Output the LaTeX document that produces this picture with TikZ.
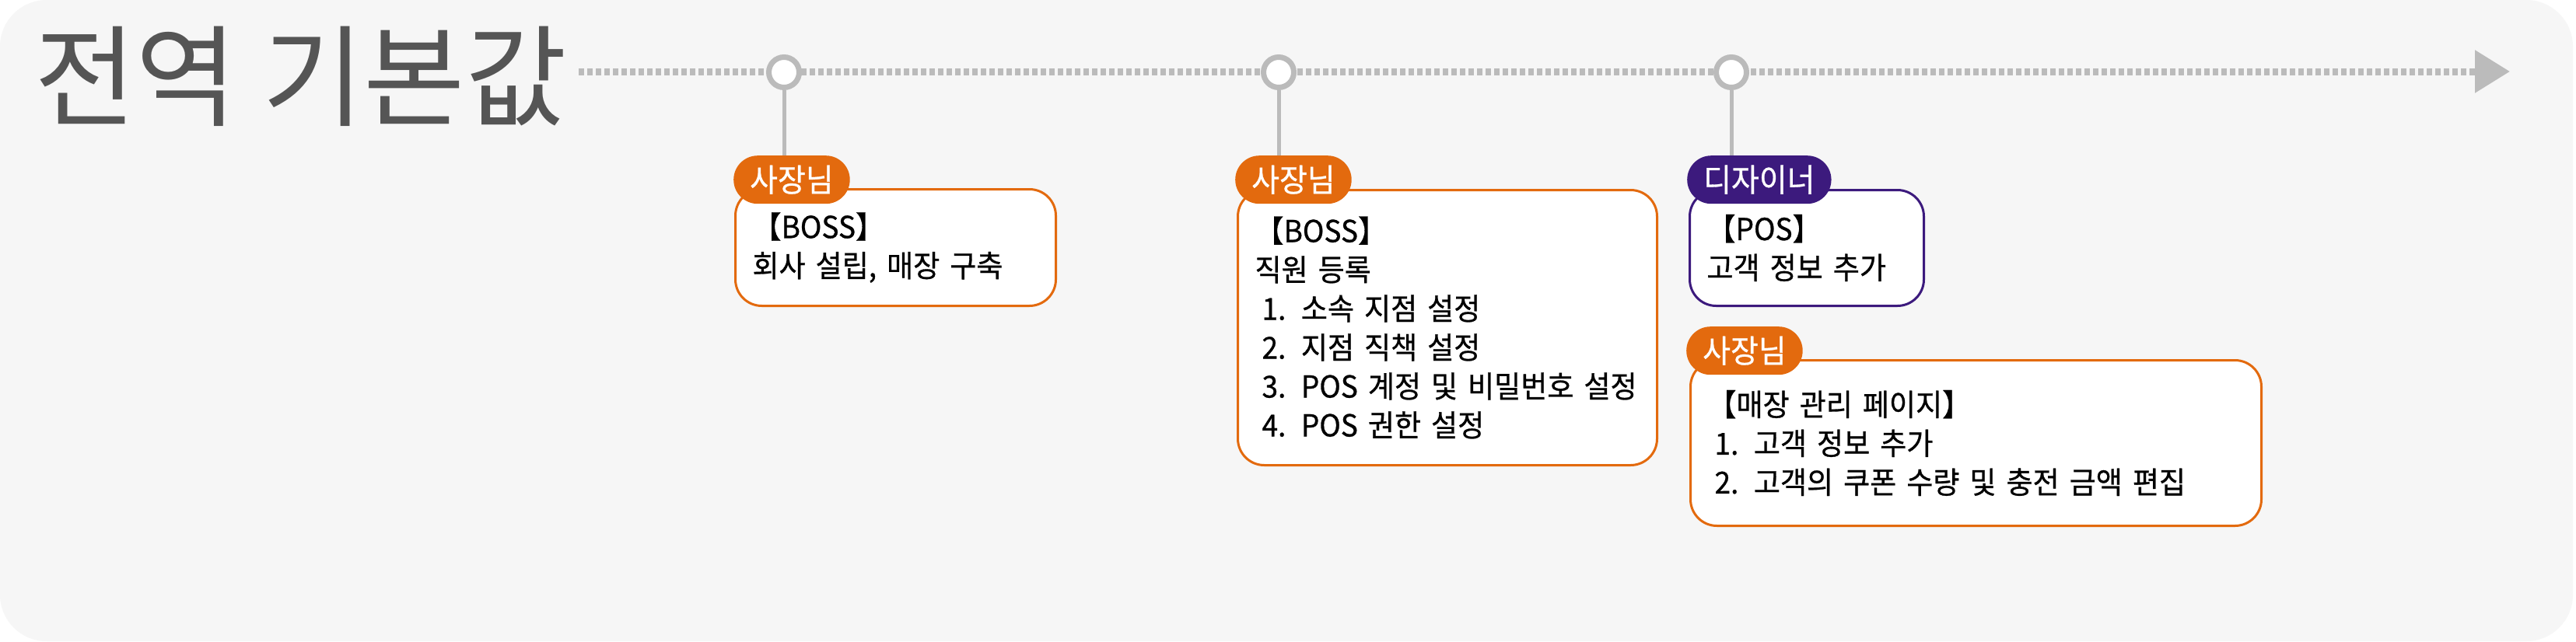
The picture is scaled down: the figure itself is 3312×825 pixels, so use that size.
\documentclass[tikz,border=0pt]{standalone}
\usepackage{fontspec}
\setmainfont{Noto Sans CJK KR}[FakeStretch=0.95, FakeBold=0.7, WordSpace=0.6]
\newfontfamily\titlefont{Noto Sans CJK KR}
\usetikzlibrary{arrows.meta}
\definecolor{panelgray}{HTML}{F6F6F6}
\definecolor{linegray}{HTML}{BBBBBB}
\definecolor{titlegray}{HTML}{555555}
\definecolor{bossorange}{HTML}{E36A0E}
\definecolor{designpurple}{HTML}{3C1A7D}
\newcommand{\lsp}{\hspace*{9pt}}

\begin{document}
\begin{tikzpicture}[x=1pt, y=-1pt,
  badge/.style={rounded corners=31pt, minimum height=62pt, inner xsep=21pt, inner ysep=0pt,
    text=white, font=\fontsize{41}{42}\selectfont, anchor=north west},
  card/.style={draw, line width=3pt, rounded corners=34pt, fill=white, align=left,
    inner xsep=22pt, inner ysep=0pt, anchor=north west, font=\fontsize{39}{50}\selectfont},
  milestone/.style={circle, draw=linegray, line width=7pt, fill=white, minimum size=39pt, inner sep=0pt},
  stem/.style={draw=linegray, line width=5pt}]
  \useasboundingbox (0,0) rectangle (3312,825);
  \fill[white] (0,0) rectangle (3312,825);
  \fill[panelgray, rounded corners=60pt] (0,0) rectangle (3308,825);

  \node[anchor=base west, inner sep=0pt, text=titlegray, font=\titlefont\fontsize{142}{146}\selectfont] (title) at (44,151) {전역 기본값};

  % timeline
  \coordinate (tlstart) at (744,92);
  \coordinate (tlend) at (3227,92);
  \draw[linegray, line width=9pt, dash pattern=on 7pt off 4pt,
    -{Triangle[length=45pt, width=53pt]}] (tlstart) -- (tlend);

  % cards
  \node[card, draw=bossorange, text width=368pt, minimum height=150pt] (c1) at (944,242)
    {【BOSS】\\회사 설립, 매장 구축};
  \node[card, draw=bossorange, text width=495pt, minimum height=354pt] (c2) at (1590,243)
    {【BOSS】\\직원 등록\\\lsp 1. 소속 지점 설정\\\lsp 2. 지점 직책 설정\\\lsp 3. POS 계정 및 비밀번호 설정\\\lsp 4. POS 권한 설정};
  \node[card, draw=designpurple, text width=257pt, minimum height=149pt] (c3) at (2171,243)
    {【POS】\\고객 정보 추가};
  \node[card, draw=bossorange, text width=690pt, minimum height=213pt] (c4) at (2172,462)
    {【매장 관리 페이지】\\\lsp 1. 고객 정보 추가\\\lsp 2. 고객의 쿠폰 수량 및 충전 금액 편집};

  % badges
  \node[badge, fill=bossorange] (b1) at (943,200) {사장님};
  \node[badge, fill=bossorange] (b2) at (1588,200) {사장님};
  \node[badge, fill=designpurple] (b3) at (2169,200) {디자이너};
  \node[badge, fill=bossorange] (b4) at (2168,420) {사장님};

  % milestones
  \node[milestone] (t1) at (1008,93) {};
  \node[milestone] (t2) at (1644,93) {};
  \node[milestone] (t3) at (2226,93) {};
  \draw[stem] (t1.south) -- (t1.south |- b1.north);
  \draw[stem] (t2.south) -- (t2.south |- b2.north);
  \draw[stem] (t3.south) -- (t3.south |- b3.north);
\end{tikzpicture}
\end{document}
